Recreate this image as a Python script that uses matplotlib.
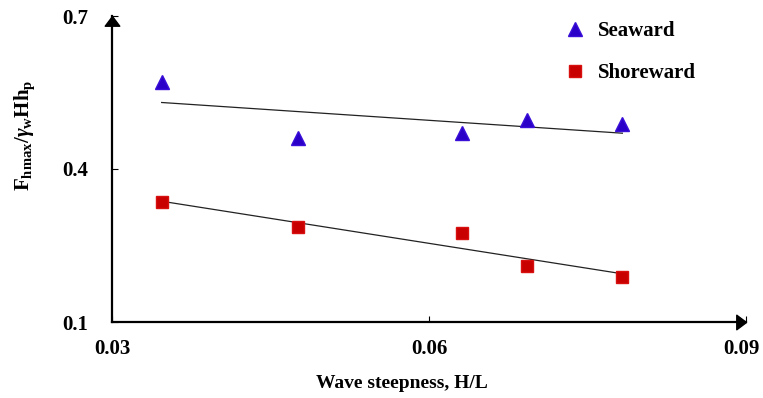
import numpy as np
import matplotlib
matplotlib.use("Agg")
import matplotlib.pyplot as plt
import matplotlib.transforms as mtransforms

plt.rcParams['font.family'] = 'Liberation Serif'
plt.rcParams['font.weight'] = 'bold'
plt.rcParams['mathtext.fontset'] = 'custom'
plt.rcParams['mathtext.rm'] = 'Liberation Serif:bold'
plt.rcParams['mathtext.bf'] = 'Liberation Serif:bold'
plt.rcParams['mathtext.it'] = 'Liberation Serif:italic:bold'

# --------- data ------------------------------- #
steepness = [0.0347, 0.0476, 0.0631, 0.0693, 0.0783]
seaward = [0.571, 0.461, 0.471, 0.496, 0.488]
shoreward = [0.335, 0.286, 0.275, 0.210, 0.188]

x_ticks = [0.03, 0.06, 0.09]
y_ticks = [0.1, 0.4, 0.7]

fig = plt.figure(figsize=(7.63, 3.98), dpi=100)
ax = fig.add_axes([112/763, 1 - 322/398, 634/763, 306/398])

x = np.array(steepness)
x_fit = np.array([x.min(), x.max()])

# trend lines (linear fits)
for ys in (seaward, shoreward):
    p = np.polyfit(x, ys, 1)
    ax.plot(x_fit, np.polyval(p, x_fit), color='#222222', lw=0.9, zorder=2)

ax.plot(x, seaward, '^', color='#2a00c8', mec='#3a10d8', ms=9.5, ls='none',
        label='Seaward', zorder=3)
ax.plot(x, shoreward, 's', color='#c80000', mec='#d81010', ms=8.5, ls='none',
        label='Shoreward', zorder=3)

ax.set_xlim(0.03, 0.09)
ax.set_ylim(0.1, 0.7)
ax.set_xticks(x_ticks)
ax.set_yticks(y_ticks)
ax.set_xticklabels(['0.03', '0.06', '0.09'])
ax.set_yticklabels(['0.1', '0.4', '0.7'])
ax.tick_params(direction='in', length=4, width=0.8, labelsize=15)
ax.tick_params(axis='x', pad=12)
ax.tick_params(axis='y', pad=17)

# pull the last x label a bit inward so it stays inside the figure
lab = ax.get_xticklabels()[-1]
lab.set_transform(lab.get_transform() +
                  mtransforms.ScaledTranslation(-5/100, 0, fig.dpi_scale_trans))

for s in ('top', 'right'):
    ax.spines[s].set_visible(False)
for s in ('left', 'bottom'):
    ax.spines[s].set_linewidth(1.6)

# arrow heads on the axes
up = [(0, 0), (-0.75, -1), (0.75, -1), (0, 0)]
right = [(0, 0), (-1, -0.75), (-1, 0.75), (0, 0)]
ax.plot([0], [1], marker=up, ms=14, color='black', transform=ax.transAxes,
        clip_on=False)
ax.plot([1], [0], marker=right, ms=14, color='black', transform=ax.transAxes,
        clip_on=False)

ax.set_xlabel('Wave steepness, H/L', fontsize=14, fontweight='bold')
ax.xaxis.set_label_coords(0.457, -0.172)
ax.set_ylabel(r'$\mathrm{F_{hmax}/}\gamma_{\mathrm{w}}\mathrm{Hh_p}$', fontsize=15)
ax.yaxis.set_label_coords(-0.118, 0.61)

ax.legend(loc='upper left', bbox_to_anchor=(565/763, 1 - 21/398),
          bbox_transform=fig.transFigure, frameon=False, fontsize=15,
          handlelength=1.0, handletextpad=0.6, labelspacing=1.05,
          borderpad=0, borderaxespad=0, numpoints=1)

fig.savefig('out.png', dpi=100)
